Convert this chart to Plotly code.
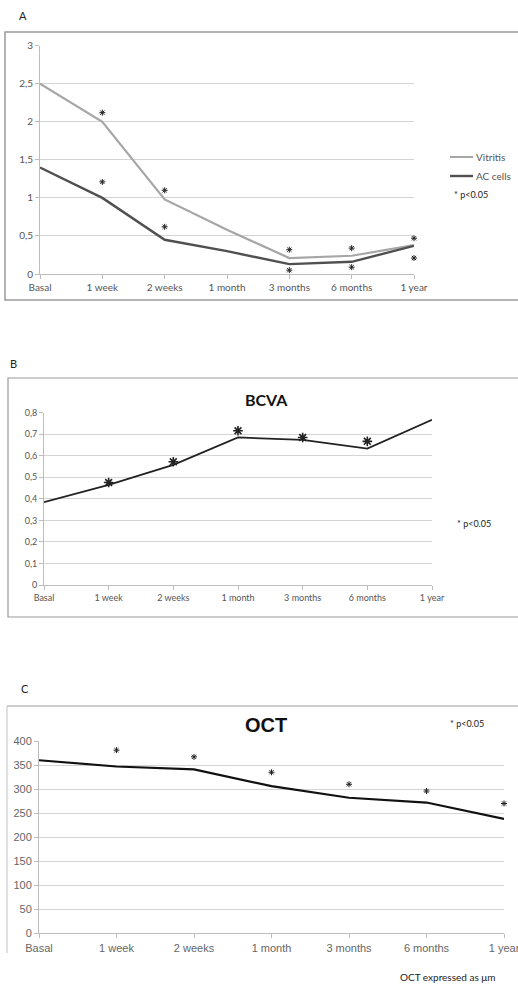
import plotly.graph_objects as go

W, H = 518, 984

categories = ["Basal", "1 week", "2 weeks", "1 month", "3 months", "6 months", "1 year"]

# Panel A
vitritis = [2.5, 2.0, 0.98, 0.58, 0.21, 0.24, 0.38]
ac_cells = [1.4, 1.0, 0.45, 0.30, 0.13, 0.16, 0.37]
a_star_cats = ["1 week", "1 week", "2 weeks", "2 weeks", "3 months", "3 months",
               "6 months", "6 months", "1 year", "1 year"]
a_star_vals = [2.12, 1.21, 1.10, 0.62, 0.32, 0.05, 0.34, 0.09, 0.47, 0.21]
a_yticks = [0, 0.5, 1, 1.5, 2, 2.5, 3]
a_yticklabels = ["0", "0,5", "1", "1,5", "2", "2,5", "3"]

# Panel B
bcva = [0.385, 0.465, 0.558, 0.685, 0.674, 0.633, 0.767]
b_star_cats = ["1 week", "2 weeks", "1 month", "3 months", "6 months"]
b_star_vals = [0.476, 0.572, 0.716, 0.685, 0.667]
b_yticks = [0, 0.1, 0.2, 0.3, 0.4, 0.5, 0.6, 0.7, 0.8]
b_yticklabels = ["0", "0,1", "0,2", "0,3", "0,4", "0,5", "0,6", "0,7", "0,8"]

# Panel C
oct_vals = [360, 347, 341, 306, 282, 272, 238]
c_star_cats = ["1 week", "2 weeks", "1 month", "3 months", "6 months", "1 year"]
c_star_vals = [381, 367, 335, 310, 296, 270]
c_yticks = [0, 50, 100, 150, 200, 250, 300, 350, 400]


def px_x(p):
    return p / W


def px_y(p):
    return 1 - p / H


fig = go.Figure()

cal = "Lato, 'Open Sans', sans-serif"
ari = "'Liberation Sans', Arial, sans-serif"


def star_marker(size, width):
    return dict(symbol="asterisk-open", size=size, color="#222",
                line=dict(color="#222", width=width))


# Panel A traces
fig.add_trace(go.Scatter(x=categories, y=vitritis, mode="lines", name="Vitritis",
                         line=dict(color="#a6a6a6", width=2.2), xaxis="x", yaxis="y",
                         showlegend=False))
fig.add_trace(go.Scatter(x=categories, y=ac_cells, mode="lines", name="AC cells",
                         line=dict(color="#505050", width=2.4), xaxis="x", yaxis="y",
                         showlegend=False))
fig.add_trace(go.Scatter(x=a_star_cats, y=a_star_vals, mode="markers", marker=star_marker(5, 1),
                         xaxis="x", yaxis="y", showlegend=False, cliponaxis=False))

# Panel B traces
fig.add_trace(go.Scatter(x=categories, y=bcva, mode="lines", name="BCVA",
                         line=dict(color="#222222", width=1.8), xaxis="x2", yaxis="y2",
                         showlegend=False))
fig.add_trace(go.Scatter(x=b_star_cats, y=b_star_vals, mode="markers", marker=star_marker(8, 1.6),
                         xaxis="x2", yaxis="y2", showlegend=False, cliponaxis=False))

# Panel C traces
fig.add_trace(go.Scatter(x=categories, y=oct_vals, mode="lines", name="OCT",
                         line=dict(color="#111111", width=2.2), xaxis="x3", yaxis="y3",
                         showlegend=False))
fig.add_trace(go.Scatter(x=c_star_cats, y=c_star_vals, mode="markers", marker=star_marker(5, 1),
                         xaxis="x3", yaxis="y3", showlegend=False, cliponaxis=False))

grid = "#d4d4d4"
axcol = "#bdbdbd"

def xax(domain, font, size, color, anchor):
    return dict(domain=domain, anchor=anchor, type="category", categoryorder="array",
                categoryarray=categories, range=[0, 6], showgrid=False, automargin=False,
                showline=True, linecolor=axcol, linewidth=1, ticks="outside",
                ticklen=4, tickcolor=axcol, tickfont=dict(family=font, size=size, color=color),
                zeroline=False, fixedrange=True)

def yax(domain, rng, tickvals, ticktext, font, size, color, anchor):
    return dict(domain=domain, anchor=anchor, range=rng, tickvals=tickvals, ticktext=ticktext,
                showgrid=True, gridcolor=grid, gridwidth=1, showline=True, linecolor=axcol,
                linewidth=1, ticks="outside", ticklen=4, tickcolor=axcol, automargin=False,
                tickfont=dict(family=font, size=size, color=color), zeroline=False,
                fixedrange=True)

fig.update_layout(
    width=W, height=H, margin=dict(l=0, r=0, t=0, b=0, autoexpand=False),
    paper_bgcolor="white", plot_bgcolor="white", hovermode=False,
    xaxis=xax([px_x(40), px_x(414)], cal, 10, "#555", "y"),
    yaxis=yax([px_y(274), px_y(45.7)], [0, 3], a_yticks, a_yticklabels, cal, 10, "#555", "x"),
    xaxis2=xax([px_x(44), px_x(432)], cal, 9, "#555", "y2"),
    yaxis2=yax([px_y(585), px_y(412.7)], [0, 0.8], b_yticks, b_yticklabels, cal, 9, "#555", "x2"),
    xaxis3=xax([px_x(39), px_x(504)], ari, 11, "#666", "y3"),
    yaxis3=yax([px_y(933.3), px_y(741)], [0, 400], c_yticks, [str(v) for v in c_yticks], ari, 11, "#666", "x3"),
)

frame = "#9a9a9a"
shapes = [
    # Panel A frame
    dict(type="rect", xref="paper", yref="paper", x0=px_x(5), x1=px_x(530), y0=px_y(300), y1=px_y(32),
         line=dict(color=frame, width=1.5)),
    # Panel B frame
    dict(type="rect", xref="paper", yref="paper", x0=px_x(8), x1=px_x(530), y0=px_y(617), y1=px_y(378),
         line=dict(color=frame, width=1.2)),
    # Panel C frame (top and left only)
    dict(type="line", xref="paper", yref="paper", x0=px_x(7), x1=px_x(530), y0=px_y(706), y1=px_y(706),
         line=dict(color=frame, width=1.2)),
    dict(type="line", xref="paper", yref="paper", x0=px_x(7), x1=px_x(7), y0=px_y(706), y1=px_y(953),
         line=dict(color="#cccccc", width=1.2)),
    # Legend lines in A
    dict(type="line", xref="paper", yref="paper", x0=px_x(450), x1=px_x(473), y0=px_y(157), y1=px_y(157),
         line=dict(color="#a6a6a6", width=2)),
    dict(type="line", xref="paper", yref="paper", x0=px_x(450), x1=px_x(473), y0=px_y(176), y1=px_y(176),
         line=dict(color="#505050", width=2.4)),
]
fig.update_layout(shapes=shapes)

def ann(text, x, y, size, family, color="#222", xanchor="left", bold=False):
    return dict(text=("<b>%s</b>" % text) if bold else text, xref="paper", yref="paper",
                x=px_x(x), y=px_y(y), xanchor=xanchor, yanchor="middle", showarrow=False,
                font=dict(size=size, family=family, color=color))

annotations = [
    ann("A", 17, 16, 11, cal),
    ann("Vitritis", 474, 157, 10, cal, "#555"),
    ann("AC cells", 474, 176, 10, cal, "#555"),
    ann("* p<0.05", 452, 194, 9, cal),
    ann("B", 8, 364, 11, cal),
    ann("BCVA", 266, 399, 16, cal, "#111", "center", True),
    ann("* p<0.05", 455, 523, 9, cal),
    ann("C", 19, 688, 11, cal),
    ann("OCT", 266, 725, 20, ari, "#111", "center", True),
    ann("* p<0.05", 448, 723, 9, cal),
    ann("OCT expressed as μm", 398, 977, 10, cal, "#222"),
]
fig.update_layout(annotations=annotations)

fig.write_html("out.html", config={"displayModeBar": False, "staticPlot": True},
               post_script="document.body.style.margin='0';document.body.style.overflow='hidden';")
